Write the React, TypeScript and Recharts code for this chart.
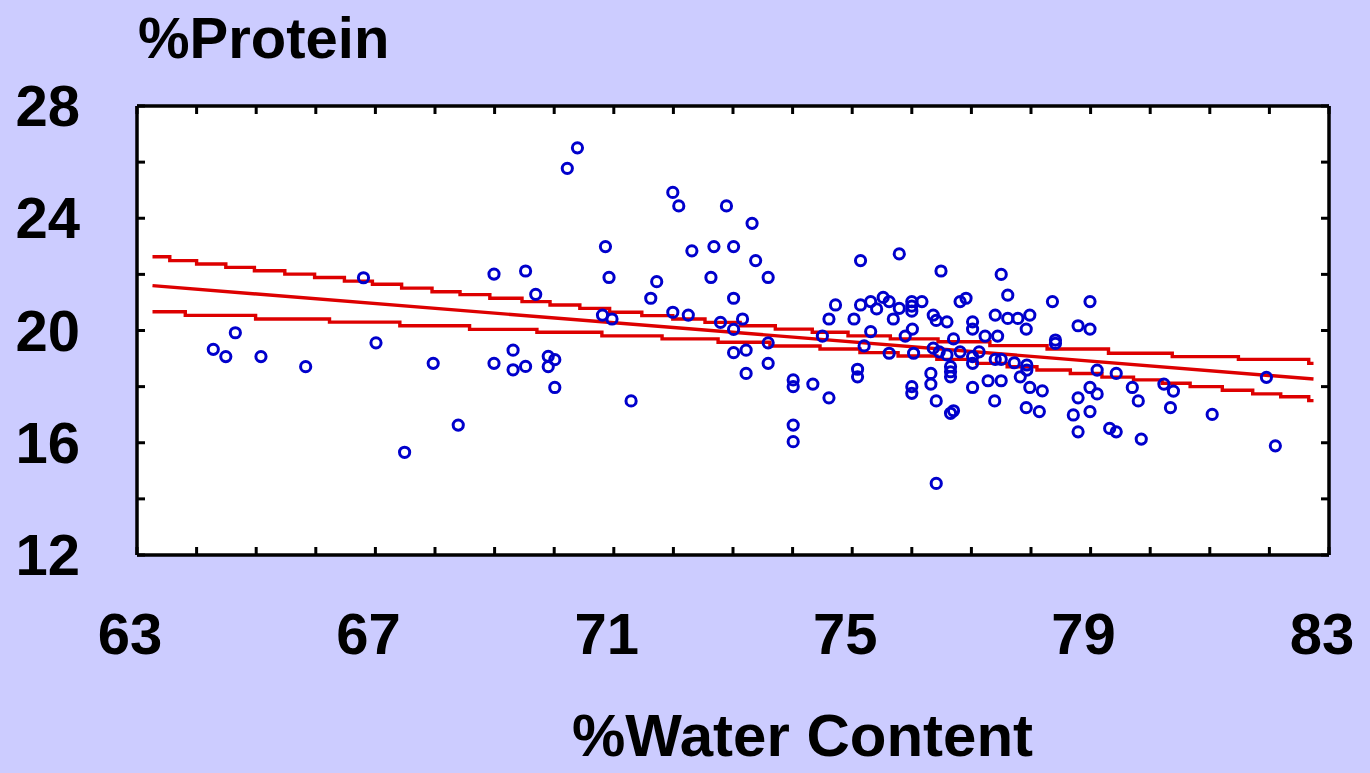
import React from "react";
import { ComposedChart, Scatter, Line, XAxis, YAxis, CartesianGrid } from "recharts";

// scatter: % water content vs % protein
const waterPct = [
  64.28, 64.49, 64.65, 65.08, 65.83, 66.80, 67.01, 67.49, 67.97, 68.39,
  68.99, 69.52, 69.69, 69.31, 68.99, 69.31, 69.52, 69.90, 70.01, 69.90,
  70.01, 70.22, 70.39, 70.86, 70.92, 70.81, 70.97, 71.62, 71.72, 71.99,
  72.09, 72.31, 71.99, 72.25, 72.68, 72.63, 72.89, 73.01, 73.32, 73.38,
  73.59, 73.01, 72.79, 73.01, 73.16, 73.01, 73.22, 73.59, 73.59, 73.22,
  71.29, 74.01, 74.01, 74.01, 74.01, 74.34, 74.61, 74.50, 74.61, 74.72,
  75.14, 75.79, 76.49, 77.50, 77.61, 78.36, 78.99, 75.14, 75.03, 75.31,
  75.41, 75.52, 75.62, 75.69, 75.79, 76.00, 76.00, 76.00, 76.17, 76.01,
  75.89, 75.31, 75.20, 75.62, 75.09, 75.09, 76.36, 76.41, 76.59, 76.81,
  76.91, 76.70, 76.36, 76.46, 76.59, 76.81, 76.65, 76.65, 76.65, 76.32,
  76.32, 76.41, 76.00, 76.00, 76.65, 76.70, 76.41, 77.02, 77.02, 77.23,
  77.40, 77.44, 77.61, 77.78, 77.98, 77.92, 77.02, 77.02, 77.13, 77.40,
  77.50, 77.72, 77.93, 77.93, 77.82, 77.02, 77.28, 77.50, 77.39, 77.98,
  78.19, 77.92, 78.14, 78.79, 78.99, 78.41, 78.41, 79.11, 79.43, 78.79,
  78.99, 79.11, 78.99, 78.71, 78.79, 79.32, 79.43, 79.70, 79.80, 79.85,
  80.23, 80.39, 80.34, 81.04, 81.95, 82.10, 76.03,
];
const proteinPct = [
  19.33, 19.07, 19.92, 19.07, 18.71, 21.88, 19.56, 15.66, 18.83, 16.63,
  22.01, 22.12, 21.29, 19.30, 18.83, 18.60, 18.72, 19.08, 18.96, 18.71,
  17.97, 25.78, 26.51, 22.99, 21.89, 20.55, 20.41, 21.15, 21.74, 24.92,
  24.44, 22.84, 20.65, 20.55, 22.99, 21.89, 24.44, 22.99, 23.82, 22.49,
  21.89, 21.15, 20.29, 20.04, 20.41, 19.21, 19.30, 19.56, 18.83, 18.47,
  17.49, 18.24, 18.00, 16.63, 16.04, 18.09, 17.60, 19.80, 20.41, 20.91,
  22.49, 22.73, 22.12, 22.00, 21.26, 21.03, 21.03, 20.91, 20.41, 21.03,
  20.77, 21.18, 21.03, 20.41, 20.79, 21.03, 20.87, 20.69, 21.03, 20.05,
  19.80, 19.96, 19.45, 19.19, 18.62, 18.35, 20.55, 20.36, 20.31, 21.03,
  21.15, 19.70, 19.37, 19.24, 19.13, 19.24, 18.71, 18.53, 18.35, 18.47,
  18.09, 17.49, 18.00, 17.76, 17.05, 17.14, 14.55, 20.31, 20.05, 19.80,
  20.55, 19.80, 20.43, 20.43, 20.55, 20.05, 19.07, 18.83, 19.24, 18.97,
  18.97, 18.85, 18.77, 18.59, 18.35, 17.97, 18.21, 18.21, 17.49, 17.97,
  17.85, 17.25, 17.11, 20.17, 20.05, 19.66, 19.54, 18.59, 18.47, 17.60,
  17.97, 17.74, 17.11, 16.99, 16.39, 16.51, 16.39, 17.97, 17.49, 16.13,
  18.09, 17.84, 17.25, 17.01, 18.33, 15.89, 19.19,
];

// regression line
const fitX = [63.26, 82.74];
const fitY = [21.6, 18.27];

// confidence band steps
const upperX = [
  63.26, 63.55, 64.0, 64.49, 64.97, 65.48, 65.98, 66.48, 66.95, 67.44,
  67.95, 68.42, 68.92, 69.46, 69.93, 70.43, 70.93, 71.47, 71.99, 72.53,
  73.12, 73.71, 74.33, 74.93, 75.64, 76.44, 77.31, 78.27, 79.3, 80.37,
  81.48, 82.66, 82.74,
];
const upperY = [
  22.63, 22.49, 22.37, 22.25, 22.13, 22.01, 21.89, 21.76, 21.65, 21.51,
  21.38, 21.28, 21.15, 21.03, 20.91, 20.79, 20.65, 20.53, 20.41, 20.29,
  20.17, 20.05, 19.94, 19.81, 19.7, 19.6, 19.46, 19.34, 19.19, 19.07,
  18.97, 18.83, 18.83,
];
const lowerX = [
  63.26, 63.81, 64.99, 66.23, 67.41, 68.58, 69.71, 70.8, 71.81, 72.75,
  73.62, 74.46, 75.13, 75.77, 76.42, 77.09, 77.6, 78.1, 78.66, 79.19,
  79.72, 80.2, 80.67, 81.21, 81.72, 82.19, 82.66, 82.74,
];
const lowerY = [
  20.67, 20.54, 20.41, 20.3, 20.17, 20.04, 19.94, 19.81, 19.7, 19.58,
  19.45, 19.34, 19.21, 19.09, 18.97, 18.83, 18.71, 18.59, 18.47, 18.34,
  18.24, 18.12, 18.0, 17.87, 17.74, 17.64, 17.5, 17.5,
];

const xTicks = [63, 64, 65, 66, 67, 68, 69, 70, 71, 72, 73, 74, 75, 76, 77, 78, 79, 80, 81, 82, 83];
const xLabels = [63, 67, 71, 75, 79, 83];
const yTicks = [12, 14, 16, 18, 20, 22, 24, 26, 28];
const yLabels = [12, 16, 20, 24, 28];

const pairs = (xs: number[], ys: number[]) => xs.map((x, i) => ({ x, y: ys[i] }));
const points = pairs(waterPct, proteinPct);
const fit = pairs(fitX, fitY);
const upper = pairs(upperX, upperY);
const lower = pairs(lowerX, lowerY);

const FONT = '"Liberation Sans", Arial, sans-serif';
const TICK = 8;

const BottomTick = (p: any) => {
  const v = p.payload.value;
  return (
    <g>
      <line x1={p.x} y1={555} x2={p.x} y2={555 - TICK} stroke="#000" strokeWidth={3} />
      {xLabels.includes(v) && (
        <text x={p.x - 7} y={654} textAnchor="middle" fontFamily={FONT} fontWeight="bold" fontSize={58} fill="#000">
          {v}
        </text>
      )}
    </g>
  );
};
const TopTick = (p: any) => (
  <line x1={p.x} y1={106} x2={p.x} y2={106 + TICK} stroke="#000" strokeWidth={3} />
);
const LeftTick = (p: any) => {
  const v = p.payload.value;
  return (
    <g>
      <line x1={137} y1={p.y} x2={137 + TICK} y2={p.y} stroke="#000" strokeWidth={3} />
      {yLabels.includes(v) && (
        <text x={80} y={p.y + 20} textAnchor="end" fontFamily={FONT} fontWeight="bold" fontSize={58} fill="#000">
          {v}
        </text>
      )}
    </g>
  );
};
const RightTick = (p: any) => (
  <line x1={1329} y1={p.y} x2={1329 - TICK} y2={p.y} stroke="#000" strokeWidth={3} />
);

const Ring = (p: any) => (
  <circle cx={p.cx} cy={p.cy} r={5.1} fill="none" stroke="#0000cc" strokeWidth={3} />
);

const axisLine = { stroke: "#000", strokeWidth: 3.5 };

export default function App() {
  return (
    <div style={{ position: "absolute", left: 0, top: 0, width: 1370, height: 773, background: "#ccccff", overflow: "hidden" }}>
      <ComposedChart width={1370} height={773} margin={{ top: 96, right: 31, bottom: 208, left: 127 }}>
        <CartesianGrid horizontal={false} vertical={false} fill="#ffffff" />
        <XAxis xAxisId="b" type="number" dataKey="x" domain={[63, 83]} ticks={xTicks} allowDataOverflow
          orientation="bottom" height={10} tickSize={0} tickMargin={0} axisLine={axisLine} tickLine={false} tick={<BottomTick />} interval={0} />
        <XAxis xAxisId="t" type="number" dataKey="x" domain={[63, 83]} ticks={xTicks} allowDataOverflow
          orientation="top" height={10} tickSize={0} tickMargin={0} axisLine={axisLine} tickLine={false} tick={<TopTick />} interval={0} />
        <YAxis yAxisId="l" type="number" dataKey="y" domain={[12, 28]} ticks={yTicks} allowDataOverflow
          orientation="left" width={10} tickSize={0} tickMargin={0} axisLine={axisLine} tickLine={false} tick={<LeftTick />} interval={0} />
        <YAxis yAxisId="r" type="number" dataKey="y" domain={[12, 28]} ticks={yTicks} allowDataOverflow
          orientation="right" width={10} tickSize={0} tickMargin={0} axisLine={axisLine} tickLine={false} tick={<RightTick />} interval={0} />
        <Line xAxisId="b" yAxisId="l" data={upper} dataKey="y" type="stepAfter" stroke="#dd0000" strokeWidth={3.4} dot={false} isAnimationActive={false} />
        <Line xAxisId="b" yAxisId="l" data={lower} dataKey="y" type="stepAfter" stroke="#dd0000" strokeWidth={3.4} dot={false} isAnimationActive={false} />
        <Line xAxisId="b" yAxisId="l" data={fit} dataKey="y" type="linear" stroke="#dd0000" strokeWidth={3.4} dot={false} isAnimationActive={false} />
        <Scatter xAxisId="b" yAxisId="l" data={points} dataKey="y" shape={<Ring />} isAnimationActive={false} />
      </ComposedChart>
      <div style={{ position: "absolute", left: 138, top: 3, fontFamily: FONT, fontWeight: "bold", fontSize: 58, lineHeight: "70px", color: "#000" }}>
        %Protein
      </div>
      <div style={{ position: "absolute", left: 572, top: 706, fontFamily: FONT, fontWeight: "bold", fontSize: 60, lineHeight: "60px", color: "#000", whiteSpace: "nowrap" }}>
        %Water Content
      </div>
    </div>
  );
}
